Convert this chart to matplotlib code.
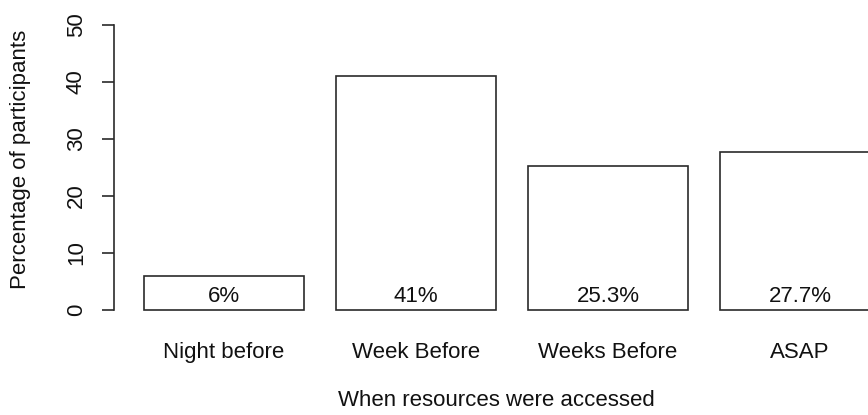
import matplotlib.pyplot as plt

categories = ["Night before", "Week Before", "Weeks Before", "ASAP"]
values = [6, 41, 25.3, 27.7]
bar_labels = ["6%", "41%", "25.3%", "27.7%"]
y_ticks = [0, 10, 20, 30, 40, 50]


def main():
    plt.rcParams['font.family'] = ['Liberation Sans', 'DejaVu Sans']
    W, H = 868, 415
    fig = plt.figure(figsize=(W / 100, H / 100), dpi=100)

    # axes: left edge = y axis line (px 114), x=0 at px 112, 160 px per unit
    x0_px, unit = 112, 160.0
    left_px, right_px = 114, W
    bottom_px, top_px = 310, 25
    ax = fig.add_axes([left_px / W, 1 - bottom_px / H,
                       (right_px - left_px) / W, (bottom_px - top_px) / H])
    ax.set_xlim((left_px - x0_px) / unit, (right_px - x0_px) / unit)
    ax.set_ylim(0, 50)

    # R style barplot: width 1, space 0.2
    centers = [0.2 + i * 1.2 + 0.5 for i in range(len(values))]
    ax.bar(centers, values, width=1.0, color='white', edgecolor='#2a2a2a',
           linewidth=1.2, clip_on=False)
    for c, lab in zip(centers, bar_labels):
        ax.text(c, 2.3, lab, ha='center', va='center', fontsize=16,
                color='#111111')

    for s in ['top', 'right', 'bottom']:
        ax.spines[s].set_visible(False)
    ax.spines['left'].set_bounds(0, 50)
    ax.spines['left'].set_color('#2a2a2a')
    ax.spines['left'].set_linewidth(1.2)
    ax.set_yticks(y_ticks)
    ax.set_yticklabels([str(t) for t in y_ticks], rotation=90, va='center',
                       fontsize=16)
    ax.tick_params(axis='y', length=8.6, width=1.2, pad=11, colors='#2a2a2a',
                   labelcolor='#111111')
    ax.set_xticks(centers)
    ax.set_xticklabels(categories, fontsize=16, color='#111111')
    ax.tick_params(axis='x', length=0, pad=23)

    ax.text((496 - x0_px) / unit, -90 / 5.7, "When resources were accessed",
            ha='center', va='center', fontsize=16, color='#111111',
            clip_on=False)
    fig.text(21 / W, 1 - 159 / H, "Percentage of participants", rotation=90,
             ha='center', va='center', fontsize=16, color='#111111')

    plt.savefig("out.png", dpi=100)


if __name__ == "__main__":
    main()
